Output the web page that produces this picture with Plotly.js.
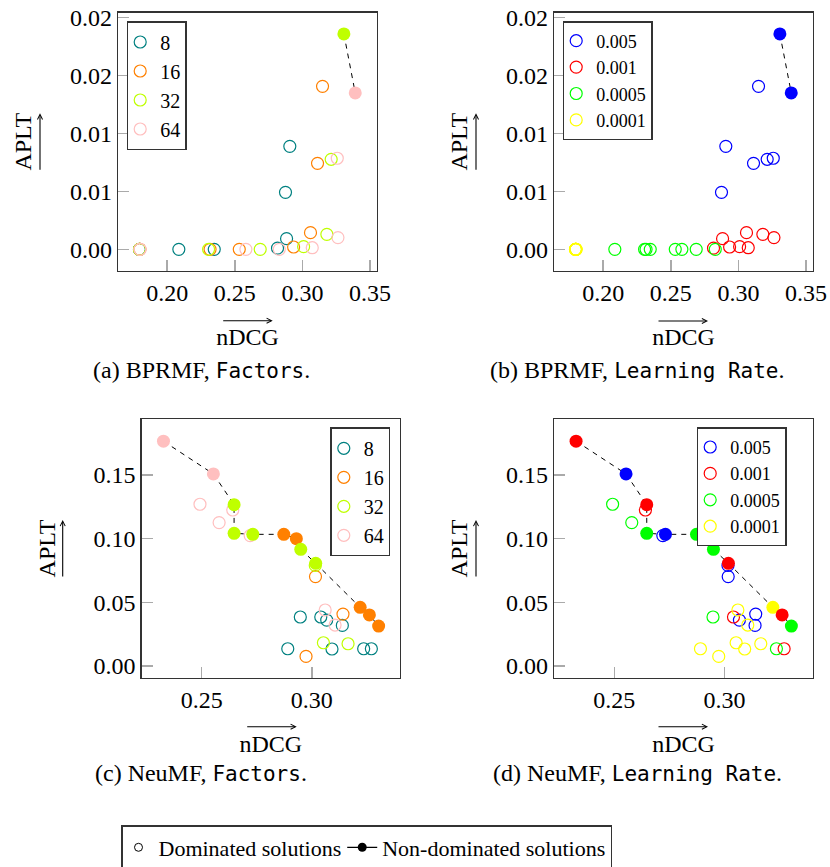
<!DOCTYPE html>
<html><head><meta charset="utf-8">
<script src="https://cdn.plot.ly/plotly-3.0.1.min.js"></script>
<style>html,body{margin:0;padding:0;background:#fff}#chart{width:830px;height:867px}</style>
</head><body><div id="chart"></div>
<script>
// ---- categories & colours ----
const factorLevels = [8, 16, 32, 64];
const factorColors = ['#008080', '#ff8000', '#bfff00', '#ffbfbf'];
const lrLevels = ['0.005', '0.001', '0.0005', '0.0001'];
const lrColors = ['#0000ff', '#ff0000', '#00ff00', '#ffff00'];

// ---- BPRMF (top row) ----
const bprmfNdcg = [0.3307, 0.3391, 0.3149, 0.2907, 0.3112, 0.3213, 0.3258, 0.2875,
                   0.3060, 0.3181, 0.3263, 0.2883, 0.2935, 0.3009, 0.3073, 0.2816,
                   0.2086, 0.2306, 0.2317, 0.2348, 0.2533, 0.2582, 0.2688, 0.2829,
                   0.1795, 0.1795, 0.1797, 0.1797, 0.1796, 0.1796, 0.1799, 0.1799];
const bprmfAplt = [0.01857, 0.01348, 0.01405, 0.00888, 0.00741, 0.00776, 0.00785, 0.00491,
                   0.00144, 0.00129, 0.00101, 0.00092, 0.00020, 0.00023, 0.00014, 0.00010,
                   0, 0, 0, 0, 0, 0, 0, 0,
                   0, 0, 0, 0, 0, 0, 0, 0];
const bprmfFactor = [32, 64, 16, 8, 16, 32, 64, 8,
                     16, 32, 64, 8, 16, 32, 64, 8,
                     8, 32, 16, 8, 16, 64, 32, 64,
                     8, 8, 16, 16, 32, 32, 64, 64];
const bprmfLR = ['0.005','0.005','0.005','0.005','0.005','0.005','0.005','0.005',
                 '0.001','0.001','0.001','0.001','0.001','0.001','0.001','0.001',
                 '0.0005','0.0005','0.0005','0.0005','0.0005','0.0005','0.0005','0.0005',
                 '0.0001','0.0001','0.0001','0.0001','0.0001','0.0001','0.0001','0.0001'];
const bprmfFront = [1, 1, 0, 0, 0, 0, 0, 0, 0, 0, 0, 0, 0, 0, 0, 0,
                    0, 0, 0, 0, 0, 0, 0, 0, 0, 0, 0, 0, 0, 0, 0, 0];

// ---- NeuMF (bottom row) ----
const neumfNdcg = [0.2326, 0.2553, 0.2647, 0.2647, 0.2732, 0.2873, 0.2930, 0.2950, 0.3018, 0.3220, 0.3262, 0.3304,
                   0.2492, 0.2579, 0.2641, 0.2720, 0.3016, 0.3017, 0.3061, 0.3142, 0.2948, 0.3041, 0.3068, 0.3106,
                   0.3139, 0.3053, 0.3165, 0.2891, 0.3092, 0.3236, 0.3271, 0.2974];
const neumfAplt = [0.1765, 0.1508, 0.1267, 0.1042, 0.1034, 0.1034, 0.1000, 0.0916, 0.0806, 0.0461, 0.0401, 0.0314,
                   0.1270, 0.1126, 0.1225, 0.1024, 0.0790, 0.0702, 0.0440, 0.0408, 0.0385, 0.0385, 0.0361, 0.0322,
                   0.0319, 0.0183, 0.0175, 0.0136, 0.0134, 0.0136, 0.0136, 0.0076];
const neumfFactor = [64, 64, 32, 32, 32, 16, 16, 32, 32, 16, 16, 16,
                     64, 64, 64, 64, 32, 16, 64, 16, 8, 8, 8, 64,
                     8, 32, 32, 8, 8, 8, 8, 16];
const neumfLR = ['0.001','0.005','0.001','0.0005','0.005','0.0005','0.001','0.0005','0.001','0.0001','0.001','0.0005',
                 '0.0005','0.0005','0.001','0.005','0.005','0.005','0.0001','0.005','0.0005','0.001','0.005','0.0001',
                 '0.005','0.0001','0.0001','0.0001','0.0001','0.0005','0.001','0.0001'];
const neumfFront = [1, 1, 1, 1, 1, 1, 1, 1, 1, 1, 1, 1,
                    0, 0, 0, 0, 0, 0, 0, 0, 0, 0, 0, 0, 0, 0, 0, 0, 0, 0, 0, 0];

// ---- tick labels & texts ----
const topYTickVals = [0, 0.005, 0.010, 0.015, 0.020];
const topYTickText = ['0.00', '0.01', '0.01', '0.02', '0.02'];
const captions = ['(a) BPRMF, ', '(b) BPRMF, ', '(c) NeuMF, ', '(d) NeuMF, '];
const captionCode = ['Factors', 'Learning Rate', 'Factors', 'Learning Rate'];
const frontLegend = ['Dominated solutions', 'Non-dominated solutions'];

const SERIF = 'Liberation Serif, DejaVu Serif, serif';
const traces = [];

function panel(ndcg, aplt, group, front, levels, colors, xa, ya, legendId) {
  levels.forEach((lev, i) => {
    const idx = ndcg.map((_, k) => k).filter(k => group[k] === lev && !front[k]);
    traces.push({
      type: 'scatter', mode: 'markers', xaxis: xa, yaxis: ya, legend: legendId,
      name: String(lev),
      x: idx.map(k => ndcg[k]), y: idx.map(k => aplt[k]),
      marker: {symbol: 'circle-open', size: 12, color: colors[i], line: {width: 1.2}},
      hoverinfo: 'skip'
    });
  });
  const fidx = ndcg.map((_, k) => k).filter(k => front[k])
    .sort((a, b) => (ndcg[a] - ndcg[b]) || (aplt[b] - aplt[a]));
  traces.push({
    type: 'scatter', mode: 'lines', xaxis: xa, yaxis: ya, showlegend: false,
    x: fidx.map(k => ndcg[k]), y: fidx.map(k => aplt[k]),
    line: {color: '#000', width: 1, dash: '5px,5px'}, hoverinfo: 'skip'
  });
  traces.push({
    type: 'scatter', mode: 'markers', xaxis: xa, yaxis: ya, showlegend: false,
    x: fidx.map(k => ndcg[k]), y: fidx.map(k => aplt[k]),
    marker: {symbol: 'circle', size: 13, color: fidx.map(k => colors[levels.indexOf(group[k])])},
    hoverinfo: 'skip'
  });
}

// bottom shared legend entries
traces.push({type: 'scatter', mode: 'markers', xaxis: 'x', yaxis: 'y', legend: 'legend',
  name: frontLegend[0], x: [null], y: [null],
  marker: {symbol: 'circle-open', size: 8, color: '#000', line: {width: 1}}});
traces.push({type: 'scatter', mode: 'lines+markers', xaxis: 'x', yaxis: 'y', legend: 'legend',
  name: frontLegend[1], x: [null], y: [null],
  line: {color: '#000', width: 1.2}, marker: {symbol: 'circle', size: 9, color: '#000'}});

panel(bprmfNdcg, bprmfAplt, bprmfFactor, bprmfFront, factorLevels, factorColors, 'x', 'y', 'legend2');
panel(bprmfNdcg, bprmfAplt, bprmfLR, bprmfFront, lrLevels, lrColors, 'x2', 'y2', 'legend3');
panel(neumfNdcg, neumfAplt, neumfFactor, neumfFront, factorLevels, factorColors, 'x3', 'y3', 'legend4');
panel(neumfNdcg, neumfAplt, neumfLR, neumfFront, lrLevels, lrColors, 'x4', 'y4', 'legend5');

function baseAxis() {
  return {showgrid: false, zeroline: false, showline: true, mirror: true, linecolor: '#333', linewidth: 1.5,
    ticks: 'inside', ticklen: 11, tickwidth: 1.5, tickcolor: '#aaa',
    tickfont: {family: SERIF, size: 24, color: '#000'}, fixedrange: true, automargin: false};
}
function xAx(domain, range, anchor) {
  return Object.assign(baseAxis(), {domain, range, anchor, dtick: 0.05, tick0: 0, tickformat: '.2f',
    title: {text: 'nDCG', standoff: 23, font: {family: SERIF, size: 24, color: '#000'}}});
}
function yAx(domain, range, anchor, top) {
  const a = Object.assign(baseAxis(), {domain, range, anchor,
    title: {text: 'APLT', standoff: 31, font: {family: SERIF, size: 24, color: '#000'}}});
  if (top) { a.tickvals = topYTickVals; a.ticktext = topYTickText; }
  else { a.dtick = 0.05; a.tick0 = 0; a.tickformat = '.2f'; }
  return a;
}
const W = 830, H = 867;
const px = v => v / W, py = v => 1 - v / H;

const dA = [0.1425, 0.4539], dB = [0.6678, 0.9792], dC = [0.1707, 0.4819];
const dTop = [0.6878, 0.9854], dBot = [0.2183, 0.5164];
const rTopX = [0.1638, 0.355], rTopY = [-0.00184, 0.0204];
const rBotX = [0.2227, 0.3401], rBotY = [-0.00916, 0.1937];

function panelLegend(x, y, size, indent) {
  return {x: px(x), y: py(y), xanchor: 'left', yanchor: 'top', bgcolor: '#fff',
    bordercolor: '#333', borderwidth: 1.5, font: {family: SERIF, size: size, color: '#000'},
    indentation: indent, itemclick: false, itemdoubleclick: false};
}

const annotations = [];
// captions
const capPos = [[201, 370], [637, 370], [201, 773], [637, 773]];
capPos.forEach((p, i) => annotations.push({
  xref: 'paper', yref: 'paper', x: px(p[0]), y: py(p[1]), xanchor: 'center', yanchor: 'middle',
  showarrow: false, font: {family: SERIF, size: 24, color: '#000'},
  text: captions[i] + '<span style="font-family:DejaVu Sans Mono;font-size:21px">' + captionCode[i] + '</span>.'
}));
// arrows over axis titles
const xArrows = [[272.7, 320.7], [708, 321], [296.7, 726.7], [708, 726.7]];
xArrows.forEach(p => annotations.push({xref: 'paper', yref: 'paper', x: px(p[0]), y: py(p[1]),
  text: '', showarrow: true, ax: -51, ay: 0, arrowhead: 5, arrowsize: 0.9, arrowwidth: 1.1, arrowcolor: '#000', standoff: 0, startstandoff: 0}));
const yArrows = [[40, 113.3], [476, 113.3], [62.7, 520], [476, 520]];
yArrows.forEach(p => annotations.push({xref: 'paper', yref: 'paper', x: px(p[0]), y: py(p[1]),
  text: '', showarrow: true, ax: 0, ay: 58, arrowhead: 5, arrowsize: 0.9, arrowwidth: 1.1, arrowcolor: '#000', standoff: 0, startstandoff: 0}));

const layout = {
  width: W, height: H, margin: {l: 0, r: 0, t: 0, b: 0, autoexpand: false},
  paper_bgcolor: '#fff', plot_bgcolor: '#fff', hovermode: false, showlegend: true,
  font: {family: SERIF, size: 24, color: '#000'},
  xaxis: xAx(dA, rTopX, 'y'), yaxis: yAx(dTop, rTopY, 'x', true),
  xaxis2: xAx(dB, rTopX, 'y2'), yaxis2: yAx(dTop, rTopY, 'x2', true),
  xaxis3: xAx(dC, rBotX, 'y3'), yaxis3: yAx(dBot, rBotY, 'x3', false),
  xaxis4: xAx(dB, rBotX, 'y4'), yaxis4: yAx(dBot, rBotY, 'x4', false),
  legend: Object.assign(panelLegend(121, 825, 22, -4), {orientation: 'h'}),
  legend2: panelLegend(126.7, 21, 20, -8),
  legend3: panelLegend(562.7, 21, 18, -8),
  legend4: panelLegend(330.3, 427.3, 20, -8),
  legend5: panelLegend(696.7, 427.3, 18, -8),
  annotations
};

Plotly.newPlot('chart', traces, layout, {displayModeBar: false, staticPlot: true});
</script>
</body></html>
